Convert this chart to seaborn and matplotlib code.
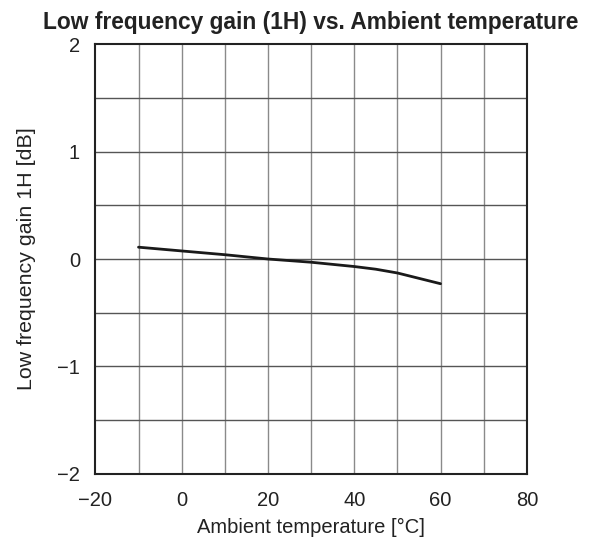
import matplotlib
matplotlib.use("Agg")
import matplotlib.pyplot as plt
import seaborn as sns
import pandas as pd

temps = [-10, 0, 10, 20, 30, 40, 45, 50, 55, 60]
gain = [0.11, 0.075, 0.04, 0.0, -0.03, -0.07, -0.095, -0.13, -0.18, -0.23]

x_ticks = [-20, 0, 20, 40, 60, 80]
y_ticks = [-2, -1, 0, 1, 2]

sns.set_theme(style="white")
plt.rcParams['font.family'] = ['Liberation Sans', 'DejaVu Sans']

fig = plt.figure(figsize=(5.96, 5.47), dpi=100)
ax = fig.add_axes([0.160, 0.1335, 0.724, 0.786])

df = pd.DataFrame({"t": temps, "g": gain})
sns.lineplot(data=df, x="t", y="g", ax=ax, color="#1a1a1a", linewidth=2)

ax.set_xlim(-20, 80)
ax.set_ylim(-2, 2)
ax.set_xticks(x_ticks)
ax.set_yticks(y_ticks)
ax.set_yticklabels(["\u22122", "\u22121", "0", "1", "2"])
ax.set_xticklabels(["\u221220", "0", "20", "40", "60", "80"])
for v in range(-10, 80, 10):
    ax.axvline(v, color="#8a8a8a", linewidth=1, zorder=0)
for v in [-1.5, -1, -0.5, 0, 0.5, 1, 1.5]:
    ax.axhline(v, color="#555555", linewidth=1, zorder=0)
for s in ax.spines.values():
    s.set_color("#222222")
    s.set_linewidth(1.5)
ax.tick_params(axis="x", length=0, labelsize=14.5, colors="#222222", pad=12)
ax.tick_params(axis="y", length=0, labelsize=14.5, colors="#222222", pad=11)
ax.set_xlabel("Ambient temperature [°C]", fontsize=14.5, color="#222222", labelpad=6)
ax.set_ylabel("Low frequency gain 1H [dB]", fontsize=15.4, color="#222222", labelpad=15)
ax.set_title("Low frequency gain (1H) vs. Ambient temperature", fontsize=16.4,
             fontweight="bold", color="#222222", pad=11)

fig.savefig("out.png", dpi=100)
